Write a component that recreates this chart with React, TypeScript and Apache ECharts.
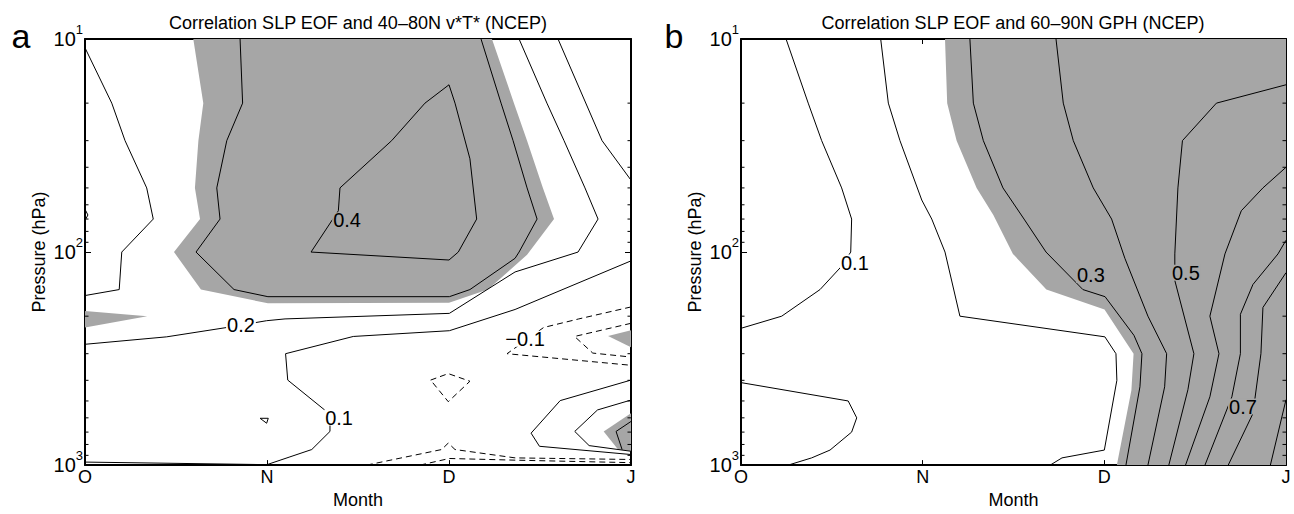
import React, { useEffect, useRef } from "react";
import * as echarts from "echarts";

const FONT = '"Liberation Sans", Arial, Helvetica, sans-serif';
const GRAY = "#a6a6a6";

// Axis data
const MONTHS = ["O", "N", "D", "J"];
const P_MINOR = [20, 30, 40, 50, 60, 70, 80, 90, 200, 300, 400, 500, 600, 700, 800, 900];

const TITLE_A = "Correlation SLP EOF and 40\u201380N v*T* (NCEP)";
const TITLE_B = "Correlation SLP EOF and 60\u201390N GPH (NCEP)";

// ---------- Panel a : contour polylines as [month, hPa] ----------
const A_C02_WEST = [[0, 11], [0.147, 20], [0.22, 30], [0.339, 50], [0.375, 70], [0.202, 100], [0.188, 150], [0, 160]];
const A_C02_MAIN = [[0, 271], [0.449, 250], [0.779, 226], [0.998, 210], [1.099, 206], [2.002, 194], [2.363, 124], [2.709, 100], [2.819, 70], [2.747, 50], [2.632, 30], [2.538, 20], [2.385, 10]];
const A_C01_MAIN = [[0, 968], [1.0, 995], [1.126, 915], [1.246, 845], [1.346, 695], [1.346, 605], [1.328, 561], [1.114, 399], [1.102, 300], [1.474, 249], [2.002, 234], [2.363, 186], [3, 110]];
const A_C01_NE = [[2.599, 10], [2.841, 30], [3, 46]];
const A_TINY_EDGE = [[0, 63], [0.016, 67], [0, 71]];
const A_TINY_TRI = [[0.962, 603], [1.007, 603], [0.998, 636], [0.962, 603]];
const A_C03 = [[0.852, 10], [0.866, 20], [0.779, 30], [0.724, 50], [0.742, 70], [0.61, 100], [0.819, 150], [1.005, 162], [2.002, 162], [2.115, 150], [2.363, 107], [2.385, 100], [2.484, 70], [2.429, 50], [2.352, 30], [2.286, 20], [2.176, 10]];
const A_C04 = [[2.0, 16.4], [1.868, 20], [1.685, 30], [1.401, 50], [1.392, 64], [1.242, 100], [2.0, 109], [2.051, 100], [2.152, 70], [2.115, 36.5], [2.033, 20], [2.0, 16.4]];
const A_SE1 = [[3, 399], [2.611, 498], [2.451, 708], [2.497, 816], [3, 892]];
const A_SE2 = [[3, 495], [2.816, 551], [2.691, 695], [2.77, 810], [3, 861]];
const A_SE3 = [[3, 624], [2.918, 695], [2.951, 845]];
const A_NEG01 = [[3, 181], [2.713, 206], [2.52, 226], [2.319, 300], [3, 340]];
const A_NEG02 = [[3, 216], [2.69, 249], [2.79, 298], [3, 311]];
const A_NEG_DIAMOND = [[1.899, 399], [1.996, 372], [2.115, 404], [1.996, 504], [1.899, 399]];
const A_NEG_BOT1 = [[1.548, 1000], [1.96, 845], [1.996, 788], [2.033, 845], [2.363, 925], [3, 941]];
const A_NEG_BOT2 = [[1.841, 1000], [2.002, 931], [2.363, 948], [3, 974]];

// shaded (significant) areas, panel a
const A_GRAY_MAIN = [[0.595, 10], [2.236, 10], [2.357, 20], [2.429, 30], [2.516, 50], [2.577, 70], [2.429, 103], [2.214, 150], [2.0, 173], [1.005, 174], [0.637, 150], [0.489, 100], [0.632, 70], [0.604, 50], [0.623, 30], [0.65, 20]];
const A_GRAY_SPIKE = [[0, 189], [0.342, 200], [0, 226]];
const A_GRAY_E = [[2.874, 248], [3, 233], [3, 280]];
const A_GRAY_SE = [[3, 571], [2.85, 695], [2.929, 845], [3, 861]];

// contour labels, panel a
const A_LABELS = [
  { x: 1.44, p: 71, t: "0.4" },
  { x: 0.857, p: 221, t: "0.2" },
  { x: 1.396, p: 598, t: "0.1" },
  { x: 2.418, p: 255, t: "\u22120.1" },
];

// ---------- Panel b ----------
const B_C01_TOP = [[0.248, 10], [0.37, 20], [0.444, 30], [0.554, 50], [0.609, 70], [0.604, 100], [0.554, 116.5], [0.435, 150], [0.224, 200], [0, 228]];
const B_C01_BOT = [[0, 410], [0.59, 500], [0.637, 600], [0.609, 700], [0.49, 850], [0.389, 925], [0.26, 1000]];
const B_C02 = [[0.769, 10], [0.811, 20], [0.875, 30], [0.995, 57], [1.05, 70], [1.123, 100], [1.205, 200], [2.003, 250], [2.064, 300], [2.069, 400], [2.0, 850], [1.767, 925], [1.702, 1000]];
const B_C03 = [[1.26, 10], [1.279, 20], [1.334, 30], [1.442, 50], [1.558, 70], [1.679, 100], [1.882, 150], [2.004, 162], [2.163, 246], [2.207, 300], [2.196, 429], [2.119, 1000]];
const B_C04 = [[1.734, 10], [1.774, 20], [1.829, 30], [1.939, 50], [2.04, 70], [2.113, 107], [2.24, 200], [2.343, 300], [2.332, 429], [2.24, 1000]];
const B_C05 = [[3, 16.4], [2.617, 20], [2.43, 30], [2.405, 50], [2.388, 102], [2.388, 136], [2.493, 300], [2.46, 443], [2.355, 1000]];
const B_C06 = [[3, 40], [2.873, 50], [2.754, 64], [2.664, 102], [2.581, 200], [2.631, 300], [2.581, 478], [2.447, 1000]];
const B_C07 = [[3, 88], [2.956, 102], [2.818, 142], [2.749, 196], [2.749, 300], [2.702, 478], [2.554, 1000]];
const B_C08 = [[3, 125], [2.873, 182], [2.862, 300], [2.818, 573], [2.682, 1000]];
const B_C09 = [[3, 493], [2.914, 1000]];
const B_GRAY = [[1.123, 10], [3, 10], [3, 1000], [2.069, 1000], [2.149, 445], [2.161, 300], [2.001, 186], [1.681, 150], [1.497, 102], [1.389, 67], [1.297, 50], [1.187, 30], [1.135, 20]];
const B_LABELS = [
  { x: 0.627, p: 112, t: "0.1" },
  { x: 1.926, p: 128, t: "0.3" },
  { x: 2.449, p: 125, t: "0.5" },
  { x: 2.763, p: 531, t: "0.7" },
];

// which labels sit on the shaded area (background of the label gap)
const A_LABEL_ON_GRAY = [true, false, false, false];
const B_LABEL_ON_GRAY = [false, true, true, true];

const SOLID_A = [A_C02_WEST, A_C02_MAIN, A_C01_MAIN, A_C01_NE, A_TINY_EDGE, A_TINY_TRI, A_C03, A_C04, A_SE1, A_SE2, A_SE3];
const DASHED_A = [A_NEG01, A_NEG02, A_NEG_DIAMOND, A_NEG_BOT1, A_NEG_BOT2];
const SOLID_B = [B_C01_TOP, B_C01_BOT, B_C02, B_C03, B_C04, B_C05, B_C06, B_C07, B_C08, B_C09];

function buildOption() {
  const axisLine = { show: true, onZero: false, lineStyle: { color: "#000", width: 2 } };
  const xAx = (gi: number, pos: string) => ({
    gridIndex: gi,
    type: "value",
    min: 0,
    max: 3,
    interval: 1,
    position: pos,
    axisLine,
    axisTick: { show: true, inside: true, length: 5, lineStyle: { color: "#000", width: 1 } },
    axisLabel: {
      show: pos === "bottom",
      formatter: (v: number) => MONTHS[Math.round(v)] ?? "",
      color: "#000",
      fontFamily: FONT,
      fontSize: 18,
      margin: 3,
    },
    splitLine: { show: false },
    name: pos === "bottom" ? "Month" : "",
    nameLocation: "middle",
    nameGap: 24,
    nameTextStyle: { color: "#000", fontFamily: FONT, fontSize: 18 },
  });
  const yAx = (gi: number, pos: string) => ({
    gridIndex: gi,
    type: "log",
    logBase: 10,
    min: 10,
    max: 1000,
    inverse: true,
    position: pos,
    axisLine,
    axisTick: { show: true, inside: true, length: 6, lineStyle: { color: "#000", width: 1 } },
    axisLabel: {
      show: pos === "left",
      formatter: (v: number) => `{b|10}{s|${Math.round(Math.log10(v))}}`,
      margin: 2,
      padding: [0, 0, 6, 0],
      rich: {
        b: { fontSize: 20, fontFamily: FONT, color: "#000", lineHeight: 26, verticalAlign: "bottom" },
        s: { fontSize: 13, fontFamily: FONT, color: "#000", lineHeight: 26, verticalAlign: "top" },
      },
    },
    splitLine: { show: false },
    name: pos === "left" ? "Pressure (hPa)" : "",
    nameLocation: "middle",
    nameGap: 37,
    nameRotate: 90,
    nameTextStyle: { color: "#000", fontFamily: FONT, fontSize: 18 },
  });

  const series: any[] = [];
  const polys: [number[][], number][] = [
    [A_GRAY_MAIN, 0],
    [A_GRAY_SPIKE, 0],
    [A_GRAY_E, 0],
    [A_GRAY_SE, 0],
    [B_GRAY, 1],
  ];
  polys.forEach(([pts, g]) => {
    series.push({
      type: "custom",
      xAxisIndex: g * 2,
      yAxisIndex: g * 2,
      data: [[1, 100]],
      z: 1,
      silent: true,
      renderItem: (_p: any, api: any) => ({
        type: "polygon",
        shape: { points: pts.map((q) => api.coord(q)) },
        style: { fill: GRAY, stroke: null },
      }),
    });
  });
  const addLine = (pts: number[][], g: number, dashed: boolean) =>
    series.push({
      type: "line",
      xAxisIndex: g * 2,
      yAxisIndex: g * 2,
      data: pts,
      symbol: "none",
      showSymbol: false,
      silent: true,
      z: 3,
      lineStyle: { color: "#000", width: 1, type: dashed ? [6, 4] : "solid" },
    });
  SOLID_A.forEach((l) => addLine(l, 0, false));
  DASHED_A.forEach((l) => addLine(l, 0, true));
  SOLID_B.forEach((l) => addLine(l, 1, false));

  [0, 1].forEach((g) => {
    series.push({
      type: "custom",
      xAxisIndex: g * 2,
      yAxisIndex: g * 2,
      data: P_MINOR.map((p) => [0, p]),
      z: 5,
      silent: true,
      renderItem: (_p: any, api: any) => {
        const p = api.value(1);
        const l = api.coord([0, p]);
        const r = api.coord([3, p]);
        return {
          type: "group",
          children: [
            { type: "line", shape: { x1: l[0], y1: l[1], x2: l[0] + 3.5, y2: l[1] }, style: { stroke: "#000", lineWidth: 1 } },
            { type: "line", shape: { x1: r[0] - 3.5, y1: r[1], x2: r[0], y2: r[1] }, style: { stroke: "#000", lineWidth: 1 } },
          ],
        };
      },
    });
  });

  const addLabels = (labels: { x: number; p: number; t: string }[], onGray: boolean[], g: number) =>
    series.push({
      type: "custom",
      xAxisIndex: g * 2,
      yAxisIndex: g * 2,
      data: labels.map((l) => [l.x, l.p]),
      z: 6,
      silent: true,
      renderItem: (params: any, api: any) => {
        const c = api.coord([api.value(0), api.value(1)]);
        return {
          type: "text",
          x: c[0],
          y: c[1],
          style: {
            text: labels[params.dataIndex].t,
            fill: "#000",
            font: `20px ${FONT}`,
            align: "center",
            verticalAlign: "middle",
            backgroundColor: onGray[params.dataIndex] ? GRAY : "#fff",
            padding: [-2, 1, -2, 1],
          },
        };
      },
    });
  addLabels(A_LABELS, A_LABEL_ON_GRAY, 0);
  addLabels(B_LABELS, B_LABEL_ON_GRAY, 1);

  const gText = (text: string, x: number, y: number, size: number) => ({
    type: "text",
    x,
    y,
    style: { text, font: `${size}px ${FONT}`, fill: "#000", align: "center", verticalAlign: "middle" },
  });

  return {
    animation: false,
    backgroundColor: "#fff",
    grid: [
      { left: 85, top: 39, width: 546, height: 430 },
      { left: 741, top: 39, width: 545, height: 430 },
    ],
    xAxis: [xAx(0, "bottom"), xAx(0, "top"), xAx(1, "bottom"), xAx(1, "top")],
    yAxis: [yAx(0, "left"), yAx(0, "right"), yAx(1, "left"), yAx(1, "right")],
    graphic: [
      gText(TITLE_A, 358, 23, 18),
      gText(TITLE_B, 1013, 23, 18),
      gText("a", 21, 36, 34),
      gText("b", 674, 36, 34),
    ],
    series,
  };
}

export default function App() {
  const ref = useRef<HTMLDivElement>(null);
  useEffect(() => {
    document.body.style.margin = "0";
    document.body.style.overflow = "hidden";
    document.documentElement.style.overflow = "hidden";
    if (!ref.current) return;
    const chart = echarts.init(ref.current, undefined, { renderer: "svg" });
    chart.setOption(buildOption() as any);
    return () => chart.dispose();
  }, []);
  return <div ref={ref} style={{ display: "block", width: 1294, height: 514, background: "#fff", overflow: "hidden" }} />;
}
